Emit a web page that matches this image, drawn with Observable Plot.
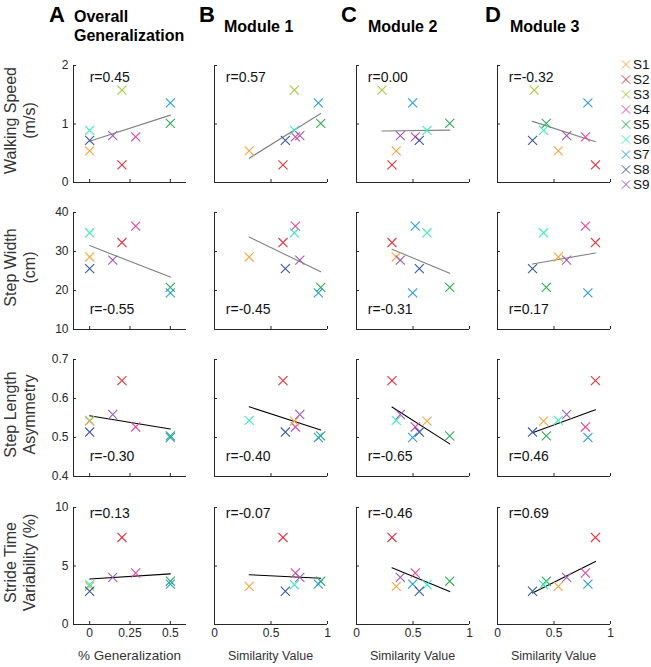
<!DOCTYPE html>
<html>
<head>
<meta charset="utf-8">
<script src="https://cdn.jsdelivr.net/npm/d3@7"></script>
<script src="https://cdn.jsdelivr.net/npm/@observablehq/plot@0.6"></script>
<style>
  body { margin: 0; background: #fff; }
  #root { position: relative; width: 651px; height: 667px; overflow: hidden;
          font-family: "Liberation Sans", Arial, Helvetica, sans-serif; background: #fff; }
</style>
</head>
<body>
<div id="root"></div>
<script>
// ---------------- data ----------------
const subjects = ["S1", "S2", "S3", "S4", "S5", "S6", "S7", "S8", "S9"];
const subjectColors = ["#F8A73F", "#E8333B", "#A8C93F", "#E8479A", "#2EAD55",
                       "#3DEBBF", "#2A9EDB", "#3858A6", "#9D5BB5"];

const panelLetters = ["A", "B", "C", "D"];
const columnTitles = [["Overall", "Generalization"], ["Module 1"], ["Module 2"], ["Module 3"]];
const xAxisLabels = ["% Generalization", "Similarity Value", "Similarity Value", "Similarity Value"];
const rowLabels = [["Walking Speed", "(m/s)"], ["Step Width", "(cm)"],
                   ["Step Length", "Asymmetry"], ["Stride Time", "Variability (%)"]];

// x values per subject (S1..S9) for each column
const xOverallGeneralization = [0, 0.20, 0.20, 0.285, 0.50, 0, 0.50, 0, 0.143];
const xModule1 = [0.307, 0.606, 0.707, 0.716, 0.940, 0.707, 0.919, 0.627, 0.755];
const xModule2 = [0.352, 0.314, 0.225, 0.520, 0.825, 0.624, 0.497, 0.556, 0.388];
const xModule3 = [0.538, 0.867, 0.325, 0.778, 0.432, 0.408, 0.800, 0.310, 0.612];
const xDomains = [[-0.1, 0.6], [0, 1], [0, 1], [0, 1]];
const xTicks = [[0, 0.25, 0.5], [0, 0.5, 1], [0, 0.5, 1], [0, 0.5, 1]];

// y values per subject (S1..S9) for each row (S3 only has walking speed)
const walkingSpeed = [0.54, 0.30, 1.58, 0.78, 1.01, 0.89, 1.36, 0.72, 0.80];
const stepWidth = [28.6, 32.3, null, 36.5, 20.8, 34.8, 19.4, 25.6, 27.8];
const stepLengthAsymmetry = [0.544, 0.646, null, 0.527, 0.504, 0.542, 0.500, 0.514, 0.559];
const strideTimeVariability = [3.26, 7.44, null, 4.40, 3.70, 3.40, 3.45, 2.84, 4.03];
const yDomains = [[0, 2], [10, 40], [0.4, 0.7], [0, 10]];
const yTicks = [[0, 1, 2], [10, 20, 30, 40], [0.4, 0.5, 0.6, 0.7], [0, 5, 10]];

// correlation coefficients printed in each panel (row x column)
const rValues = [["0.45", "0.57", "0.00", "-0.32"],
                 ["-0.55", "-0.45", "-0.31", "0.17"],
                 ["-0.30", "-0.40", "-0.65", "0.46"],
                 ["0.13", "-0.07", "-0.46", "0.69"]];
const rLabelX = [0, 0.1, 0.1, 0.1];
const rLabelY = [1.8, 15, 0.45, 9.5];
const fitColors = ["#808080", "#808080", "#000000", "#000000"];

// marker colours as drawn in the original (a few points use another subject's colour)
const colorQuirks = [
  {row: 2, col: null, subject: "S1", drawnAs: "S6"},
  {row: 2, col: null, subject: "S6", drawnAs: "S1"},
  {row: 1, col: 2, subject: "S4", drawnAs: "S7"}
];

// ---------------- layout ----------------
const xCols = [xOverallGeneralization, xModule1, xModule2, xModule3];
const yRows = [walkingSpeed, stepWidth, stepLengthAsymmetry, strideTimeVariability];
const colLeft = [73, 214, 356, 497];
const rowTop = [65, 212, 359, 507];
const PW = 113, PH = 117;
const ML = 32, MR = 8, MT = 8, MB = 24;
const axisColor = "#262626";
const font = '"Liberation Sans", Arial, Helvetica, sans-serif';
const root = document.getElementById("root");

function colorFor(r, c, i) {
  const q = colorQuirks.find(q => q.row === r && (q.col === null || q.col === c) && q.subject === subjects[i]);
  return subjectColors[subjects.indexOf(q ? q.drawnAs : subjects[i])];
}

for (let r = 0; r < 4; r++) {
  for (let c = 0; c < 4; c++) {
    const data = subjects.map((s, i) => ({s, x: xCols[c][i], y: yRows[r][i], color: colorFor(r, c, i)}))
                         .filter(d => d.y != null);
    const fmt = d => String(d);
    const svg = Plot.plot({
      width: PW + ML + MR, height: PH + MT + MB,
      marginLeft: ML, marginRight: MR, marginTop: MT, marginBottom: MB,
      style: {background: "transparent", overflow: "visible", fontFamily: font, fontSize: "12px", color: axisColor},
      x: {domain: xDomains[c], axis: null, label: null},
      y: {domain: yDomains[r], axis: null, label: null},
      marks: [
        Plot.axisX(xTicks[c], {anchor: "bottom", tickSize: -3, tickPadding: 7, label: null,
                               tickFormat: r === 3 ? fmt : () => "", fontSize: 12}),
        Plot.axisY(yTicks[r], {anchor: "left", tickSize: -3, tickPadding: 8, label: null,
                               tickFormat: c === 0 ? fmt : () => "", fontSize: 12}),
        Plot.ruleX([xDomains[c][0]], {stroke: axisColor, strokeWidth: 1}),
        Plot.ruleY([yDomains[r][0]], {stroke: axisColor, strokeWidth: 1}),
        Plot.linearRegressionY(data, {x: "x", y: "y", ci: 0, stroke: fitColors[r], strokeWidth: 1.1}),
        Plot.dot(data, {x: "x", y: "y", symbol: "times", r: 4.2, stroke: "color", strokeWidth: 1.1}),
        Plot.text([rValues[r][c]], {x: () => rLabelX[c], y: () => rLabelY[r], text: d => "r=" + d,
                                    textAnchor: "start", lineAnchor: "middle", fontSize: 14, fill: "#111"})
      ]
    });
    svg.style.position = "absolute";
    svg.style.left = (colLeft[c] - ML) + "px";
    svg.style.top = (rowTop[r] - MT) + "px";
    svg.style.maxWidth = "none";
    root.appendChild(svg);
  }
}

// legend
const legend = Plot.plot({
  width: 36, height: 138, marginLeft: 0, marginRight: 0, marginTop: 8.5, marginBottom: 9.2,
  style: {background: "transparent", overflow: "visible", fontFamily: font},
  x: {axis: null, domain: [0, 1]},
  y: {type: "point", domain: subjects, axis: null, padding: 0},
  marks: [
    Plot.dot(subjects, {y: d => d, frameAnchor: "left", dx: 11.5, symbol: "times", r: 3.9,
                        stroke: (d, i) => subjectColors[i], strokeWidth: 1}),
    Plot.text(subjects, {y: d => d, frameAnchor: "left", dx: 18.5, text: d => d, textAnchor: "start",
                         fontSize: 13.5, fill: "#111"})
  ]
});
legend.style.position = "absolute";
legend.style.left = "614px";
legend.style.top = "55px";
legend.style.maxWidth = "none";
root.appendChild(legend);

// titles and axis labels
const ann = d3.select(root).append("svg")
  .attr("width", 651).attr("height", 667)
  .style("position", "absolute").style("left", 0).style("top", 0)
  .style("font-family", font).style("pointer-events", "none");

const letterX = [49, 199, 341, 485];
const titleX = [74, 224, 368, 510];
panelLetters.forEach((L, c) => {
  ann.append("text").attr("x", letterX[c]).attr("y", 22).attr("font-size", 22)
     .attr("font-weight", "bold").attr("fill", "#000").text(L);
  const lines = columnTitles[c];
  lines.forEach((t, k) => {
    ann.append("text").attr("x", titleX[c])
       .attr("y", lines.length > 1 ? 22 + 19 * k : 32)
       .attr("font-size", 16).attr("font-weight", "bold").attr("fill", "#000").text(t);
  });
  ann.append("text").attr("x", colLeft[c] + PW / 2).attr("y", 660)
     .attr("text-anchor", "middle").attr("font-size", c === 0 ? 13.5 : 12.5).attr("fill", "#333")
     .text(xAxisLabels[c]);
});

rowLabels.forEach((lines, r) => {
  const g = ann.append("g").attr("transform", `translate(19.5,${rowTop[r] + PH / 2 - 3}) rotate(-90)`);
  lines.forEach((t, k) => {
    g.append("text").attr("x", 0).attr("y", (k - 0.5) * 19).attr("dy", "0.35em")
     .attr("text-anchor", "middle").attr("font-size", 16).attr("fill", "#333").text(t);
  });
});
</script>
</body>
</html>
